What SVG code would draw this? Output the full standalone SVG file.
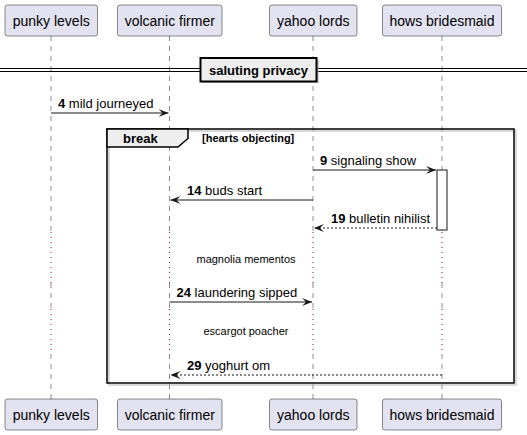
<svg xmlns="http://www.w3.org/2000/svg" width="527" height="435" viewBox="0 0 527 435">
<style>
.pbox{fill:#E2E2F0;stroke:#181818;stroke-width:0.5}
.pt{font-family:"Liberation Sans",Arial,sans-serif;font-size:14px;fill:#000;text-anchor:middle}
.life{stroke:#181818;stroke-width:0.5;stroke-dasharray:5,5;fill:none}
.delay{stroke:#A80036;stroke-width:1;stroke-dasharray:1,4;fill:none}
.msg{stroke:#181818;stroke-width:1;fill:none}
.dash{stroke:#181818;stroke-width:1;stroke-dasharray:2,2;fill:none}
.lbl{font-family:"Liberation Sans",Arial,sans-serif;font-size:13px;fill:#000}
.num{font-weight:bold}
.small{font-family:"Liberation Sans",Arial,sans-serif;font-size:11px;fill:#000;text-anchor:middle}
.head{fill:#181818;stroke:#181818;stroke-width:1}
</style>
<defs>
<marker id="ar" viewBox="0 0 10 8" refX="10" refY="4" markerWidth="10" markerHeight="8" markerUnits="userSpaceOnUse" orient="auto">
<polygon points="0,0 10,4 0,8 4,4" fill="#181818"/>
</marker>
</defs>
<g id="lifelines">
<line class="life" x1="51" y1="36" x2="51" y2="232"/><line class="life" x1="51" y1="283" x2="51" y2="309"/><line class="life" x1="51" y1="354" x2="51" y2="399"/>
<line class="life" x1="169.5" y1="36" x2="169.5" y2="232"/><line class="life" x1="169.5" y1="283" x2="169.5" y2="309"/><line class="life" x1="169.5" y1="354" x2="169.5" y2="399"/>
<line class="life" x1="313" y1="36" x2="313" y2="232"/><line class="life" x1="313" y1="283" x2="313" y2="309"/><line class="life" x1="313" y1="354" x2="313" y2="399"/>
<line class="life" x1="442" y1="36" x2="442" y2="232"/><line class="life" x1="442" y1="283" x2="442" y2="309"/><line class="life" x1="442" y1="354" x2="442" y2="399"/>
<line class="delay" x1="51" y1="232" x2="51" y2="283"/><line class="delay" x1="169.5" y1="232" x2="169.5" y2="283"/><line class="delay" x1="313" y1="232" x2="313" y2="283"/><line class="delay" x1="442" y1="232" x2="442" y2="283"/>
<line class="delay" x1="51" y1="309" x2="51" y2="354"/><line class="delay" x1="169.5" y1="309" x2="169.5" y2="354"/><line class="delay" x1="313" y1="309" x2="313" y2="354"/><line class="delay" x1="442" y1="309" x2="442" y2="354"/>
</g>
<g id="activation">
<rect x="437" y="170" width="10" height="60" fill="#FFFFFF" stroke="#181818" stroke-width="1"/>
</g>
<g id="divider">
<line x1="0" y1="68.5" x2="527" y2="68.5" stroke="#000" stroke-width="1"/>
<line x1="0" y1="71.5" x2="527" y2="71.5" stroke="#000" stroke-width="1"/>
<rect x="202" y="60" width="117" height="23" fill="#AAAAAA" opacity="0.6"/>
<rect x="200.5" y="58" width="116" height="23.5" fill="#EEEEEE" stroke="#000" stroke-width="2"/>
<text x="258.5" y="75" font-family="Liberation Sans,Arial,sans-serif" font-size="13" font-weight="bold" text-anchor="middle">saluting privacy</text>
</g>
<g id="frame">
<rect x="109" y="131" width="407" height="254" fill="none" stroke="#AAAAAA" stroke-width="1.5" opacity="0.6"/>
<rect x="107" y="129" width="407" height="254" fill="none" stroke="#000" stroke-width="1.5"/>
<polygon points="107,129 188,129 188,138.5 178,147 107,147" fill="#EEEEEE" stroke="#000" stroke-width="1.5"/>
<text x="123" y="143" font-family="Liberation Sans,Arial,sans-serif" font-size="13" font-weight="bold">break</text>
<text x="202" y="142" font-family="Liberation Sans,Arial,sans-serif" font-size="11" font-weight="bold">[hearts objecting]</text>
</g>
<g id="connectors">
<line class="msg" x1="51" y1="113" x2="168.5" y2="113" marker-end="url(#ar)"/>
<text class="lbl" x="58" y="108"><tspan class="num">4</tspan> mild journeyed</text>
<line class="msg" x1="313" y1="170" x2="436" y2="170" marker-end="url(#ar)"/>
<text class="lbl" x="320" y="165"><tspan class="num">9</tspan> signaling show</text>
<line class="msg" x1="313" y1="200" x2="170.5" y2="200" marker-end="url(#ar)"/>
<text class="lbl" x="187" y="195"><tspan class="num">14</tspan> buds start</text>
<line class="dash" x1="437" y1="228" x2="314" y2="228" marker-end="url(#ar)"/>
<text class="lbl" x="331" y="223"><tspan class="num">19</tspan> bulletin nihilist</text>
<line class="msg" x1="169.5" y1="302" x2="312" y2="302" marker-end="url(#ar)"/>
<text class="lbl" x="176.5" y="297"><tspan class="num">24</tspan> laundering sipped</text>
<line class="dash" x1="442" y1="375" x2="170.5" y2="375" marker-end="url(#ar)"/>
<text class="lbl" x="187" y="370"><tspan class="num">29</tspan> yoghurt om</text>
</g>
<g id="delays">
<text class="small" x="246" y="263">magnolia mementos</text>
<text class="small" x="246" y="335">escargot poacher</text>
</g>
<g id="p-punky">
<rect class="pbox" x="5" y="5" width="92.5" height="31" rx="2.5"/><text class="pt" x="51.25" y="25.5">punky levels</text>
<rect class="pbox" x="5" y="399" width="92.5" height="31" rx="2.5"/><text class="pt" x="51.25" y="419.5">punky levels</text>
</g>
<g id="p-volcanic">
<rect class="pbox" x="117.5" y="5" width="104.5" height="31" rx="2.5"/><text class="pt" x="169.75" y="25.5">volcanic firmer</text>
<rect class="pbox" x="117.5" y="399" width="104.5" height="31" rx="2.5"/><text class="pt" x="169.75" y="419.5">volcanic firmer</text>
</g>
<g id="p-yahoo">
<rect class="pbox" x="269.5" y="5" width="87.5" height="31" rx="2.5"/><text class="pt" x="313.25" y="25.5">yahoo lords</text>
<rect class="pbox" x="269.5" y="399" width="87.5" height="31" rx="2.5"/><text class="pt" x="313.25" y="419.5">yahoo lords</text>
</g>
<g id="p-hows">
<rect class="pbox" x="382.5" y="5" width="119" height="31" rx="2.5"/><text class="pt" x="442" y="25.5">hows bridesmaid</text>
<rect class="pbox" x="382.5" y="399" width="119" height="31" rx="2.5"/><text class="pt" x="442" y="419.5">hows bridesmaid</text>
</g>
</svg>
